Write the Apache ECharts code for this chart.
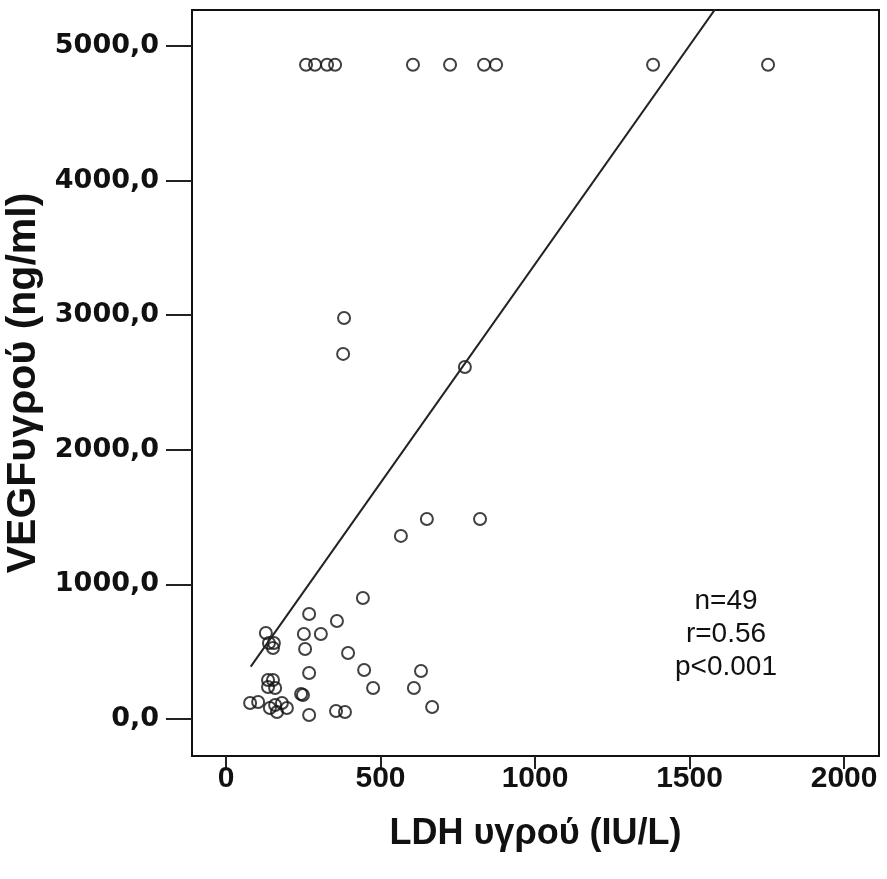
<!DOCTYPE html>
<html><head><meta charset="utf-8">
<script src="https://cdn.jsdelivr.net/npm/echarts@6/dist/echarts.min.js"></script>
<style>html,body{margin:0;padding:0;background:#fff}#c{width:887px;height:879px}</style>
</head><body><div id="c"></div>
<script>
// LDH (IU/L) values
const ldh = [
  259, 288, 327, 353, 605, 725, 835, 874, 1382, 1754,
  382, 379, 773,
  566, 650, 822,
  443, 269, 359, 129, 252, 307,
  139, 155, 152,
  256, 395, 269, 447, 631, 476, 608, 667, 269, 356, 385,
  243, 249,
  136, 152, 136, 159,
  78, 104, 142, 159, 181, 165, 197
];
// VEGF (ng/ml) values
const vegf = [
  4860, 4860, 4860, 4860, 4860, 4860, 4860, 4860, 4860, 4860,
  2979, 2712, 2615,
  1360, 1486, 1486,
  899, 780, 728, 639, 631, 631,
  565, 565, 527,
  520, 490, 342, 364, 357, 230, 230, 89, 30, 59, 52,
  186, 178,
  290, 290, 238, 230,
  119, 126, 82, 104, 119, 52, 82
];
const xTickValues = [0, 500, 1000, 1500, 2000];
const yTickValues = [0, 1000, 2000, 3000, 4000, 5000];
const fitSlope = 3.25;
const fitIntercept = 129;
const fitRange = [80, 1754];
const statN = 49, statR = '0.56', statP = '<0.001';

const points = ldh.map((x, i) => [x, vegf[i]]);
const fitLine = fitRange.map(x => [x, fitIntercept + fitSlope * x]);

const chart = echarts.init(document.getElementById('c'), null, {renderer: 'canvas'});
chart.setOption({
  backgroundColor: '#fff',
  animation: false,
  grid: {left: 192, top: 10, right: 8, bottom: 123, show: true, borderColor: '#111', borderWidth: 2, backgroundColor: '#fff', outerBoundsMode: 'none', containLabel: false},
  xAxis: {
    type: 'value', min: -110, max: 2113,
    axisLine: {show: false, onZero: false},
    splitLine: {show: false},
    axisTick: {show: true, customValues: xTickValues, length: 13, lineStyle: {color: '#222', width: 2}},
    axisLabel: {customValues: xTickValues, margin: 8, fontSize: 30, fontWeight: 'bold', fontFamily: 'Liberation Sans, Arial, sans-serif', color: '#111',
      formatter: v => String(v)},
    name: 'LDH υγρού (IU/L)', nameLocation: 'middle', nameGap: 60,
    nameTextStyle: {fontSize: 36, fontWeight: 'bold', fontFamily: 'Liberation Sans, Arial, sans-serif', color: '#111'}
  },
  yAxis: {
    type: 'value', min: -275, max: 5267,
    axisLine: {show: false, onZero: false},
    splitLine: {show: false},
    axisTick: {show: true, customValues: yTickValues, length: 26, lineStyle: {color: '#222', width: 2}},
    axisLabel: {customValues: yTickValues, margin: 33, fontSize: 27, fontWeight: 'bold', fontFamily: 'DejaVu Sans, sans-serif', color: '#111',
      formatter: v => v.toFixed(1).replace('.', ',')},
    name: 'VEGFυγρού (ng/ml)', nameLocation: 'middle', nameGap: 138,
    nameTextStyle: {fontSize: 41, fontWeight: 'bold', fontFamily: 'Liberation Sans, Arial, sans-serif', color: '#111'}
  },
  series: [
    {
      type: 'scatter', data: points, symbol: 'circle', symbolSize: 12,
      itemStyle: {color: 'rgba(0,0,0,0)', borderColor: '#111', borderWidth: 2}
    },
    {
      type: 'line', data: fitLine, showSymbol: false, clip: true,
      lineStyle: {color: '#222', width: 2}
    }
  ],
  graphic: [{
    type: 'text', left: 675, top: 585,
    style: {
      text: 'n=' + statN + '\nr=' + statR + '\np' + statP,
      fontSize: 28, lineHeight: 33, fontFamily: 'Liberation Sans, Arial, sans-serif',
      fill: '#111', align: 'center', textAlign: 'center'
    }
  }]
});
</script>
</body></html>
